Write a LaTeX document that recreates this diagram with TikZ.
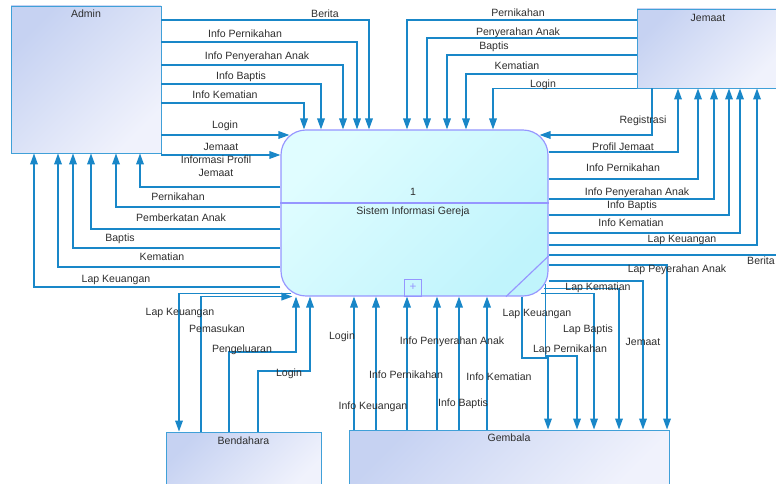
\documentclass[tikz,border=0pt]{standalone}
\usepackage{fontspec}
\setmainfont{Liberation Sans}
\usepackage{tikz}
\usetikzlibrary{arrows.meta}
\definecolor{flowblue}{RGB}{25,135,200}
\definecolor{entityedge}{RGB}{64,160,216}
\definecolor{entitytop}{RGB}{198,210,242}
\definecolor{entitybot}{RGB}{240,242,252}
\definecolor{procedge}{RGB}{150,150,255}
\definecolor{proctop}{RGB}{224,253,255}
\definecolor{procbot}{RGB}{192,244,252}
\definecolor{labelgray}{RGB}{45,45,45}
\newlength{\px}
\setlength{\px}{0.03cm}

\begin{document}
\begin{tikzpicture}[x=0.03cm, y=-0.03cm,
        entity/.style={draw=entityedge, line width=0.8pt, top color=entitytop, bottom color=entitybot, shading angle=45, inner sep=0pt},
        process/.style={draw=procedge, line width=1pt, rounded corners=0.75cm, top color=proctop, bottom color=procbot, shading angle=45, inner sep=0pt},
        flow/.style={draw=flowblue, line width=1.1pt, -{Triangle[length=0.33cm,width=0.23cm]}},
        line/.style={draw=flowblue, line width=1.1pt},
        lbl/.style={font=\fontsize{9}{11}\selectfont, text=labelgray, inner sep=0pt, align=center, text height=6.5pt, text depth=1.5pt}]
        \useasboundingbox (0,0) rectangle (776,484);

        \node[entity, minimum width=150\px, minimum height=147\px] (admin) at (86,79.5) {};
        \node[lbl] (admintxt) at ([yshift=-9\px]admin.north) {Admin};
        \node[entity, minimum width=142\px, minimum height=79\px] (jemaat) at (708,48.5) {};
        \node[lbl] (jemaattxt) at ([yshift=-10\px]jemaat.north) {Jemaat};
        \node[entity, minimum width=155\px, minimum height=58\px] (bendahara) at (243.5,461) {};
        \node[lbl] (bendaharatxt) at ([yshift=-10\px]bendahara.north) {Bendahara};
        \node[entity, minimum width=320\px, minimum height=60\px] (gembala) at (509,460) {};
        \node[lbl] (gembalatxt) at ([yshift=-9\px]gembala.north) {Gembala};

        \node[process, minimum width=267\px, minimum height=166\px] (sig) at (414.5,213) {};
        \draw[procedge, line width=1pt] (sig.west |- 0,203) -- (sig.east |- 0,203);
        \draw[procedge, line width=1pt] (sig.south -| 506,0) -- (sig.east |- 0,256);
        \node[lbl] (signum) at (413,193) {1};
        \node[lbl] (signame) at (413,212) {Sistem Informasi Gereja};
        \node[draw=procedge, line width=0.8pt, minimum size=17\px, inner sep=0pt, text=procedge, anchor=south] (sigplus) at (sig.south -| 413,0) {+};

        \draw[flow] (admin.east |- 0,20) -| (369,0 |- sig.north);
        \draw[flow] (admin.east |- 0,42) -| (357,0 |- sig.north);
        \draw[flow] (admin.east |- 0,65) -| (343,0 |- sig.north);
        \draw[flow] (admin.east |- 0,84) -| (321,0 |- sig.north);
        \draw[flow] (admin.east |- 0,103) -| (304,0 |- sig.north);
        \draw[flow] (admin.east |- 0,135) -- (sig.west |- 0,135) -- ++(9,0);
        \draw[flow] (admin.south east) |- (sig.west |- 0,155);

        \draw[flow] (sig.west |- 0,187) -| (140,0 |- admin.south);
        \draw[flow] (sig.west |- 0,207) -| (116,0 |- admin.south);
        \draw[flow] (sig.west |- 0,229) -| (91,0 |- admin.south);
        \draw[flow] (sig.west |- 0,248) -| (73,0 |- admin.south);
        \draw[flow] (sig.west |- 0,267) -| (58,0 |- admin.south);
        \draw[flow] (sig.west |- 0,287) -| (34,0 |- admin.south);

        \draw[flow] (jemaat.west |- 0,20) -| (407,0 |- sig.north);
        \draw[flow] (jemaat.west |- 0,38) -| (427,0 |- sig.north);
        \draw[flow] (jemaat.west |- 0,55) -| (447,0 |- sig.north);
        \draw[flow] (jemaat.west |- 0,74) -| (466,0 |- sig.north);
        \draw[flow] (jemaat.south west) -| (493,0 |- sig.north);
        \draw[flow] (652,0 |- jemaat.south) |- (sig.east |- 0,135) -- ++(-9,0);

        \draw[flow] (sig.east |- 0,152) -| (678,0 |- jemaat.south);
        \draw[flow] (sig.east |- 0,179) -| (698,0 |- jemaat.south);
        \draw[flow] (sig.east |- 0,199) -| (714,0 |- jemaat.south);
        \draw[flow] (sig.east |- 0,215) -| (729,0 |- jemaat.south);
        \draw[flow] (sig.east |- 0,233) -| (740,0 |- jemaat.south);
        \draw[flow] (sig.east |- 0,245) -| (757,0 |- jemaat.south);
        \coordinate (beritaend) at (790,255);
        \draw[line] (sig.east |- 0,255) -- (beritaend);

        \draw[flow] (sig.east |- 0,265) -| (667,0 |- gembala.north);
        \draw[flow] (sig.east |- 0,281) -| (643,0 |- gembala.north);
        \draw[flow] (sig.south east) ++(-5,-8) -| (619,0 |- gembala.north);
        \draw[flow] (sig.south east) ++(-8,-3) -| (594,0 |- gembala.north);
        \draw[flow] (sig.south east) ++(-3,-13) |- (577,356) -- (577,0 |- gembala.north);
        \draw[flow] (522,0 |- sig.south) |- (548,358) -- (548,0 |- gembala.north);

        \draw[flow] (sig.south west) ++(11,-3) -| (179,0 |- bendahara.north);
        \draw[flow] (201,0 |- bendahara.north) |- (sig.south west) -- ++(12,0);
        \draw[flow] (229,0 |- bendahara.north) |- (296,352) -- (296,0 |- sig.south);
        \draw[flow] (258,0 |- bendahara.north) |- (310,371) -- (310,0 |- sig.south);

        \draw[flow] (354,0 |- gembala.north) -- (354,0 |- sig.south);
        \draw[flow] (376,0 |- gembala.north) -- (376,0 |- sig.south);
        \draw[flow] (407,0 |- gembala.north) -- (407,0 |- sig.south);
        \draw[flow] (437,0 |- gembala.north) -- (437,0 |- sig.south);
        \draw[flow] (459,0 |- gembala.north) -- (459,0 |- sig.south);
        \draw[flow] (487,0 |- gembala.north) -- (487,0 |- sig.south);

        \node[lbl] (tberita) at (325,15) {Berita};
        \node[lbl] (tinfonikah) at (245,35) {Info Pernikahan};
        \node[lbl] (tinfoserah) at (257,57) {Info Penyerahan Anak};
        \node[lbl] (tinfobaptis) at (241,77) {Info Baptis};
        \node[lbl] (tinfomati) at (225,96) {Info Kematian};
        \node[lbl] (tloginadm) at (225,126) {Login};
        \node[lbl] (tjemaatadm) at (221,148) {Jemaat};
        \node[lbl] (tprofiladm) at (216,173.5) {Informasi Profil\\Jemaat};
        \node[lbl] (tnikahadm) at (178,198) {Pernikahan};
        \node[lbl] (tberkatadm) at (181,219) {Pemberkatan Anak};
        \node[lbl] (tbaptisadm) at (120,239) {Baptis};
        \node[lbl] (tmatiadm) at (162,258) {Kematian};
        \node[lbl] (tlapadm) at (116,280) {Lap Keuangan};

        \node[lbl] (tnikahjem) at (518,14) {Pernikahan};
        \node[lbl] (tserahjem) at (518,33) {Penyerahan Anak};
        \node[lbl] (tbaptisjem) at (494,47) {Baptis};
        \node[lbl] (tmatijem) at (517,67) {Kematian};
        \node[lbl] (tloginjem) at (543,85) {Login};
        \node[lbl] (tregis) at (643,121) {Registrasi};
        \node[lbl] (tprofiljem) at (623,148) {Profil Jemaat};
        \node[lbl] (tinfonikahjem) at (623,169) {Info Pernikahan};
        \node[lbl] (tinfoserahjem) at (637,193) {Info Penyerahan Anak};
        \node[lbl] (tinfobaptisjem) at (632,206) {Info Baptis};
        \node[lbl] (tinfomatijem) at (631,224) {Info Kematian};
        \node[lbl] (tlapjem) at (682,240) {Lap Keuangan};
        \node[lbl, anchor=east] (tberitajem) at (775,262) {Berita};

        \node[lbl] (tlapserah) at (677,270) {Lap Peyerahan Anak};
        \node[lbl] (tlapmati) at (598,288) {Lap Kematian};
        \node[lbl] (tlapuanggem) at (537,314) {Lap Keuangan};
        \node[lbl] (tlapbaptis) at (588,330) {Lap Baptis};
        \node[lbl] (tjemaatgem) at (643,343) {Jemaat};
        \node[lbl] (tlapnikah) at (570,350) {Lap Pernikahan};

        \node[lbl] (tlapben) at (180,313) {Lap Keuangan};
        \node[lbl] (tmasuk) at (217,330) {Pemasukan};
        \node[lbl] (tkeluar) at (242,350) {Pengeluaran};
        \node[lbl] (tloginben) at (289,374) {Login};

        \node[lbl] (tlogingem) at (342,337) {Login};
        \node[lbl] (tinfoserahgem) at (452,342) {Info Penyerahan Anak};
        \node[lbl] (tinfonikahgem) at (406,376) {Info Pernikahan};
        \node[lbl] (tinfomatigem) at (499,378) {Info Kematian};
        \node[lbl] (tinfouanggem) at (373,407) {Info Keuangan};
        \node[lbl] (tinfobaptisgem) at (463,404) {Info Baptis};
    \end{tikzpicture}
\end{document}
